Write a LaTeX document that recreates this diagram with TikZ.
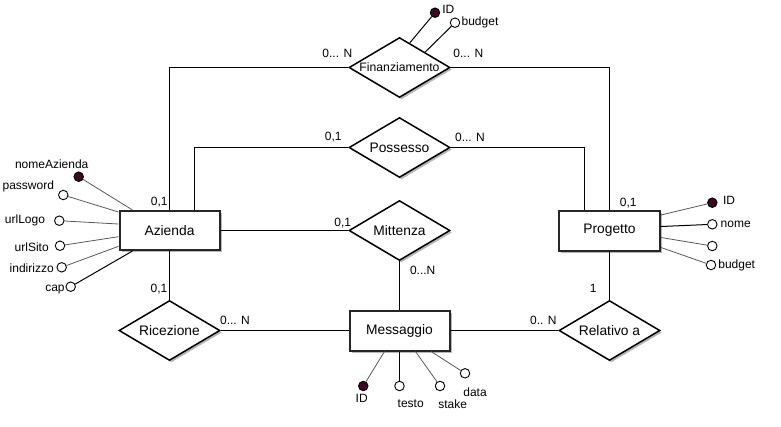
\documentclass[tikz,border=0pt]{standalone}
\usepackage{fontspec}
\setmainfont{Liberation Sans}
\usetikzlibrary{shapes.geometric,shadows,calc}
\definecolor{keyfill}{HTML}{3A0A1E}
\definecolor{boxline}{HTML}{262626}
\tikzset{
  shad/.style={drop shadow={shadow xshift=2bp,shadow yshift=-2bp,opacity=0.4,fill=black!70}},
  entity/.style={draw=boxline, line width=2bp, fill=white, minimum width=100bp,
    minimum height=39bp, inner sep=0pt, font=\fontsize{13.8bp}{16bp}\selectfont, shad},
  rel/.style={diamond, draw=black, line width=1.5bp, fill=white, minimum width=101bp,
    minimum height=60bp, inner sep=0pt, shape aspect=1.68,
    font=\fontsize{13.8bp}{16bp}\selectfont, shad},
  attr/.style={circle, draw=black, line width=0.9bp, fill=white, minimum size=9.5bp, inner sep=0pt},
  keyattr/.style={attr, fill=keyfill},
  lbl/.style={font=\fontsize{12bp}{14bp}\selectfont, inner sep=0pt},
  link/.style={draw=black, line width=1bp},
  alink/.style={draw=black!65, line width=0.8bp},
  blink/.style={draw=black, line width=1bp},
}
\begin{document}
\begin{tikzpicture}[x=1bp,y=-1bp]
\useasboundingbox (0,0) rectangle (781,426);

% entities
\node[entity] (Azienda) at (169.5,230.5) {Azienda};
\node[entity, minimum width=101bp, minimum height=40bp] (Progetto) at (609.5,230.5) {Progetto};
\node[entity, minimum height=40bp] (Messaggio) at (399.5,330.5) {Messaggio};

% relationships
\node[rel, font=\fontsize{12.2bp}{14bp}\selectfont] (Fin) at (399.5,67.5) {Finanziamento};
\node[rel] (Pos) at (399.5,147.5) {Possesso};
\node[rel] (Mit) at (399.5,230.5) {Mittenza};
\node[rel] (Ric) at (169.5,330.5) {Ricezione};
\node[rel] (Rel) at (609.5,330.5) {Relativo a};

% links
\draw[link] (Azienda.north) |- (Fin.west);
\draw[link] (Fin.east) -| (Progetto.north);
\draw[link] ($(Azienda.north)+(25,0)$) |- (Pos.west);
\draw[link] (Pos.east) -| ($(Progetto.north)+(-25,0)$);
\draw[link] (Azienda.east) -- (Mit.west);
\draw[link] (Mit.south) -- (Messaggio.north);
\draw[link] (Azienda.south) -- (Ric.north);
\draw[link] (Ric.east) -- (Messaggio.west);
\draw[link] (Messaggio.east) -- (Rel.west);
\draw[link] (Progetto.south) -- (Rel.north);

% Azienda attributes
\node[keyattr] (aNome) at (78.7,176.7) {};
\node[attr] (aPwd) at (63.3,195) {};
\node[attr] (aLogo) at (59.3,220.7) {};
\node[attr] (aSito) at (60,245.7) {};
\node[attr] (aInd) at (61.7,267.3) {};
\node[attr] (aCap) at (70.7,286.7) {};
\draw[alink] ($(Azienda.north west)+(14,0)$) -- (aNome);
\draw[alink] ($(Azienda.north west)+(0,2)$) -- (aPwd);
\draw[alink] ($(Azienda.north west)+(0,14)$) -- (aLogo);
\draw[alink] ($(Azienda.north west)+(0,26.7)$) -- (aSito);
\draw[alink] ($(Azienda.north west)+(0,36.3)$) -- (aInd);
\draw[blink] ($(Azienda.south west)+(14,0)$) -- (aCap);
\node[lbl] (laNome) at (51.7,164) {nomeAzienda};
\node[lbl] (laPwd) at (28.3,186.7) {password};
\node[lbl] (laLogo) at (25,220.7) {urlLogo};
\node[lbl] (laSito) at (31.7,247.7) {urlSito};
\node[lbl] (laInd) at (31.7,268.3) {indirizzo};
\node[lbl] (laCap) at (55,289.3) {cap};

% Progetto attributes
\node[keyattr] (pID) at (712.3,202.7) {};
\node[attr] (pNome) at (712.3,224.3) {};
\node[attr] (pX) at (712.3,246) {};
\node[attr] (pBud) at (711,265) {};
\draw[alink] ($(Progetto.north east)+(0,5.5)$) -- (pID);
\draw[blink] ($(Progetto.north east)+(0,17)$) -- (pNome);
\draw[alink] ($(Progetto.north east)+(0,28)$) -- (pX);
\draw[alink] ($(Progetto.north east)+(0,38)$) -- (pBud);
\node[lbl] (lpID) at (729,200.7) {ID};
\node[lbl] (lpNome) at (735.7,224.3) {nome};
\node[lbl] (lpBud) at (736.7,265) {budget};

% Finanziamento attributes
\node[keyattr] (fID) at (435,12.7) {};
\node[attr] (fBud) at (455,22.7) {};
\draw[blink] ($(Fin.north)!0.2!(Fin.east)$) -- (fID);
\draw[blink] ($(Fin.north)!0.5!(Fin.east)$) -- (fBud);
\node[lbl] (lfID) at (448.3,9.3) {ID};
\node[lbl] (lfBud) at (480,22.7) {budget};

% Messaggio attributes
\node[keyattr] (mID) at (363.3,386) {};
\node[attr] (mTesto) at (399.5,386) {};
\node[attr] (mStake) at (440,386) {};
\node[attr] (mData) at (465,373.3) {};
\draw[alink] ($(Messaggio.south west)+(36,0)$) -- (mID);
\draw[blink] (Messaggio.south) -- (mTesto);
\draw[alink] ($(Messaggio.south west)+(67,0)$) -- (mStake);
\draw[alink] ($(Messaggio.south west)+(82.7,0)$) -- (mData);
\node[lbl] (lmID) at (361.7,398.3) {ID};
\node[lbl] (lmTesto) at (410.7,404) {testo};
\node[lbl] (lmStake) at (452.7,404) {stake};
\node[lbl] (lmData) at (475,391.7) {data};

% cardinalities
\node[lbl] (c1) at (337.3,53.3) {0... N};
\node[lbl] (c2) at (468.3,53.3) {0... N};
\node[lbl] (c3) at (333.3,137.3) {0,1};
\node[lbl] (c4) at (470,137.3) {0... N};
\node[lbl] (c5) at (342.7,222.7) {0,1};
\node[lbl] (c6) at (422.7,270.7) {0...N};
\node[lbl] (c7) at (159.3,201.7) {0,1};
\node[lbl] (c8) at (159,289.3) {0,1};
\node[lbl] (c9) at (628.3,202.7) {0,1};
\node[lbl] (c10) at (593.3,288.3) {1};
\node[lbl] (c11) at (235,320.7) {0... N};
\node[lbl] (c12) at (543.3,320) {0.. N};
\end{tikzpicture}
\end{document}
